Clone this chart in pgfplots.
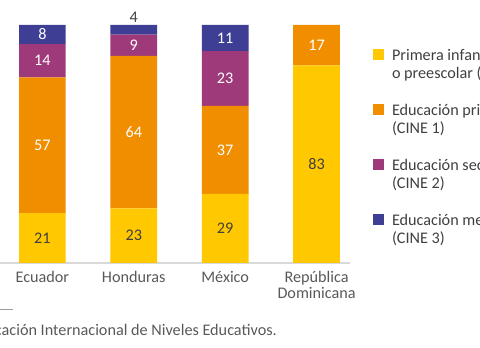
\documentclass[border=0pt]{standalone}
\usepackage{pgfplots}
\pgfplotsset{compat=1.18}
\usepackage{fontspec}
\setmainfont{Carlito}
\definecolor{cYel}{RGB}{255,200,0}
\definecolor{cOra}{RGB}{240,142,0}
\definecolor{cPur}{RGB}{158,58,122}
\definecolor{cNav}{RGB}{62,62,148}
\definecolor{cTxt}{RGB}{64,64,64}
\definecolor{cTick}{RGB}{89,89,89}
\definecolor{cAx}{RGB}{217,217,217}
\newcommand{\fs}{\fontsize{16.2}{18.5}\selectfont}
\newcommand{\LE}[2]{\begin{tabular}[t]{@{}l@{}}#1\\#2\end{tabular}}
\begin{document}
\begin{tikzpicture}
\path[use as bounding box] (0,0) rectangle (480pt,348pt);
\clip (0,0) rectangle (480pt,348pt);
\begin{axis}[
  at={(-94.75pt,85pt)}, anchor=south west,
  scale only axis, width=444.6pt, height=238pt,
  xmin=-0.5, xmax=4.364, ymin=0, ymax=100,
  clip=false,
  ybar stacked, bar width=46.7pt,
  axis y line=none,
  axis x line*=bottom,
  x axis line style={draw=cAx, line width=1.5pt},
  xtick={1,2,3,4},
  xticklabels={Ecuador,Honduras,México,{\begin{tabular}[t]{@{}c@{}}República\\Dominicana\end{tabular}}},
  major tick length=0pt,
  xticklabel style={font=\fontsize{16.2}{16}\selectfont, text=cTick, anchor=base, yshift=-19.3pt, inner sep=0pt},
  point meta=explicit symbolic,
  nodes near coords,
  every node near coord/.append style={font=\fs, anchor=center, inner sep=0pt, text=white},
  legend style={draw=none, fill=none, at={(1.0521,0.9076)}, anchor=north west, inner sep=0pt, row sep=18pt, cells={anchor=base west}, nodes={inner sep=0pt, text depth=, font=\fs, text=cTxt}},
  legend image code/.code={\fill[#1] (0pt,0pt) rectangle (10.8pt,10.8pt);},
]
\addplot[fill=cYel, draw=none, every node near coord/.append style={text=cTxt}] coordinates {(1,21) [21] (2,23) [23] (3,29) [29] (4,83) [83]};
\addlegendentry{\LE{\hspace{8pt}Primera infancia}{\hspace{8pt}o preescolar (CINE 0)}}
\addplot[fill=cOra, draw=none] coordinates {(1,57) [57] (2,64) [64] (3,37) [37] (4,17) [17]};
\addlegendentry{\LE{\hspace{8pt}Educación primaria}{\hspace{8pt}(CINE 1)}}
\addplot[fill=cPur, draw=none] coordinates {(1,14) [14] (2,9) [9] (3,23) [23] (4,0) []};
\addlegendentry{\LE{\hspace{8pt}Educación secundaria}{\hspace{8pt}(CINE 2)}}
\addplot[fill=cNav, draw=none] coordinates {(1,8) [8] (2,4) [] (3,11) [11] (4,0) []};
\addlegendentry{\LE{\hspace{8pt}Educación media}{\hspace{8pt}(CINE 3)}}
\node[font=\fs, text=cTxt, anchor=base, inner sep=0pt] at (axis cs:2,100) [yshift=2pt] {4};
\end{axis}
\draw[cTick!60, line width=0.8pt] (0,39pt) -- (13pt,39pt);
\node[anchor=base east, font=\fs, text=cTick, inner sep=0pt] at (277pt,12pt) {CINE: Clasificación Internacional de Niveles Educativos.};
\end{tikzpicture}
\end{document}
